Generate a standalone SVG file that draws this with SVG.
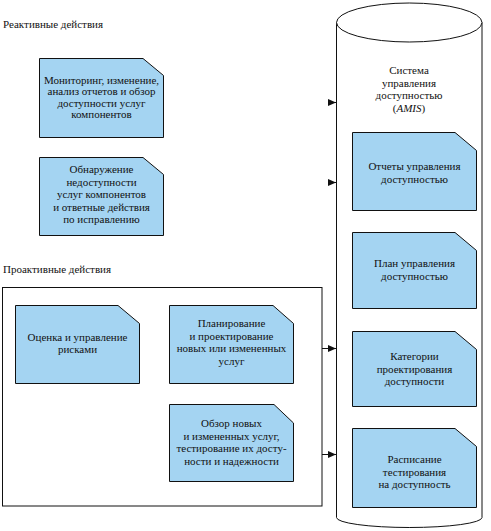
<svg xmlns="http://www.w3.org/2000/svg" width="491" height="531" viewBox="0 0 491 531">
<defs>
<style>
text{font-family:"Liberation Serif","DejaVu Serif",serif;font-size:11px;fill:#111}
.c{text-anchor:middle}
.note{fill:#a4d4f2;stroke:#111;stroke-width:1}
.frame{fill:none;stroke:#111;stroke-width:1}
.cyl{fill:#fff;stroke:#111;stroke-width:1}
.conn{stroke:#111;stroke-width:1;fill:none}
</style>
<marker id="ah" markerUnits="userSpaceOnUse" viewBox="0 0 8 7" refX="8" refY="3.5" markerWidth="8" markerHeight="7" orient="auto">
<path d="M0,0 L8,3.5 L0,7 z" fill="#111"/>
</marker>
</defs>
<rect width="491" height="531" fill="#fff"/>
<g font-family="Liberation Serif, DejaVu Serif, serif">
<g id="label-reactive"><text x="3" y="28">Реактивные действия</text></g>
<g id="label-proactive"><text x="3" y="273">Проактивные действия</text></g>

<g id="proactive-frame"><rect class="frame" x="2.5" y="287.5" width="319.5" height="218.5"/></g>

<g id="amis">
<path class="cyl" d="M336.5,22.5 V517.5 A72.75,10 0 0 0 482,517.5 V22.5"/>
<ellipse class="cyl" cx="409.25" cy="22.5" rx="72.75" ry="19.5"/>
<text class="c" x="409" y="74">Система</text>
<text class="c" x="409" y="86.5">управления</text>
<text class="c" x="409" y="99">доступностью</text>
<text class="c" x="409" y="111.5">(<tspan font-style="italic">AMIS</tspan>)</text>
</g>

<g id="n-monitoring">
<path class="note" d="M39.5,58.5 H143 L163.5,75.5 V137.5 H39.5 Z"/>
<text class="c" x="101.5" y="83.5">Мониторинг, изменение,</text>
<text class="c" x="101.5" y="95">анализ отчетов и обзор</text>
<text class="c" x="101.5" y="106.5">доступности услуг</text>
<text class="c" x="101.5" y="118">компонентов</text>
</g>

<g id="n-detection">
<path class="note" d="M39.5,157.5 H143 L163.5,174.5 V235.5 H39.5 Z"/>
<text class="c" x="101.5" y="173">Обнаружение</text>
<text class="c" x="101.5" y="185.5">недоступности</text>
<text class="c" x="101.5" y="198">услуг компонентов</text>
<text class="c" x="101.5" y="210.5">и ответные действия</text>
<text class="c" x="101.5" y="223">по исправлению</text>
</g>

<g id="n-risk">
<path class="note" d="M15.5,305.5 H118 L139.5,323.5 V383.5 H15.5 Z"/>
<text class="c" x="77.5" y="341">Оценка и управление</text>
<text class="c" x="77.5" y="353">рисками</text>
</g>

<g id="n-planning">
<path class="note" d="M169.5,305.5 H273 L293.5,323.5 V383.5 H169.5 Z"/>
<text class="c" x="231.5" y="327">Планирование</text>
<text class="c" x="231.5" y="339.5">и проектирование</text>
<text class="c" x="231.5" y="352">новых или измененных</text>
<text class="c" x="231.5" y="364.5">услуг</text>
</g>

<g id="n-review">
<path class="note" d="M169.5,404.5 H274 L293.5,423 V481.5 H169.5 Z"/>
<text class="c" x="231.5" y="427">Обзор новых</text>
<text class="c" x="231.5" y="439.5">и измененных услуг,</text>
<text class="c" x="231.5" y="452">тестирование их досту-</text>
<text class="c" x="231.5" y="464.5">ности и надежности</text>
</g>

<g id="n-reports">
<path class="note" d="M352.5,132.5 H455 L476.5,150.5 V210.5 H352.5 Z"/>
<text class="c" x="414.5" y="170">Отчеты управления</text>
<text class="c" x="414.5" y="183">доступностью</text>
</g>

<g id="n-plan">
<path class="note" d="M352.5,232.5 H455 L476.5,250.5 V308.5 H352.5 Z"/>
<text class="c" x="414.5" y="267">План управления</text>
<text class="c" x="414.5" y="279.5">доступностью</text>
</g>

<g id="n-categories">
<path class="note" d="M352.5,331.5 H455 L476.5,349.5 V406.5 H352.5 Z"/>
<text class="c" x="414.5" y="360">Категории</text>
<text class="c" x="414.5" y="372.5">проектирования</text>
<text class="c" x="414.5" y="385">доступности</text>
</g>

<g id="n-schedule">
<path class="note" d="M352.5,428.5 H455 L476.5,446.5 V507.5 H352.5 Z"/>
<text class="c" x="414.5" y="463">Расписание</text>
<text class="c" x="414.5" y="475.5">тестирования</text>
<text class="c" x="414.5" y="488">на доступность</text>
</g>
</g>
<g id="connectors">
<line class="conn" x1="328" y1="102.5" x2="336" y2="102.5" marker-end="url(#ah)"/>
<line class="conn" x1="328" y1="182.5" x2="336" y2="182.5" marker-end="url(#ah)"/>
<line class="conn" x1="322" y1="348.5" x2="336" y2="348.5" marker-end="url(#ah)"/>
<line class="conn" x1="322" y1="454.5" x2="336" y2="454.5" marker-end="url(#ah)"/>
</g>
</svg>
